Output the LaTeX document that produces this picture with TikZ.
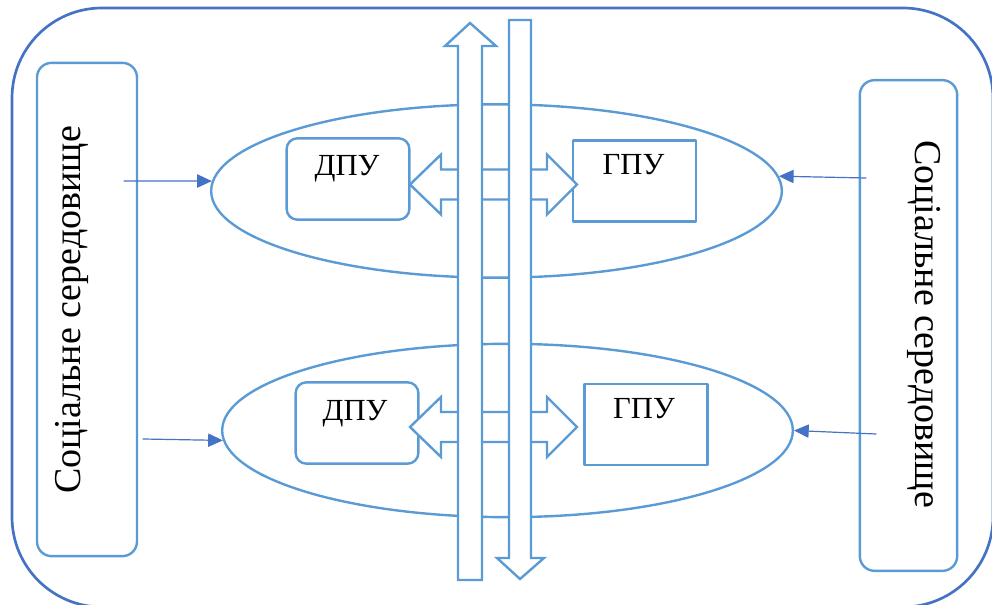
\documentclass[tikz,border=0pt]{standalone}
\usepackage{fontspec}
\setmainfont{Liberation Serif}
\usepackage{tikz}
\usetikzlibrary{arrows.meta,calc,shapes.geometric}
\definecolor{unitblue}{RGB}{91,155,213}
\definecolor{frameblue}{RGB}{68,114,196}
\tikzset{
  frame line/.style={draw=frameblue,line width=2pt},
  side box/.style={draw=unitblue,line width=1.8pt,rounded corners=11pt,inner sep=0pt},
  unit box/.style={draw=unitblue,line width=1.8pt,minimum width=92pt,minimum height=61pt,inner sep=0pt},
  level ellipse/.style={ellipse,draw=unitblue,line width=1.8pt,minimum width=428pt,minimum height=130pt,inner sep=0pt},
  block arrow/.style={draw=unitblue,fill=white,line width=1.8pt,line join=miter},
  link arrow/.style={draw=frameblue,line width=.9pt,-{Triangle[length=11pt,width=10pt]}},
  unit label/.style={font=\fontsize{23}{27}\selectfont,inner sep=0pt,anchor=base},
  side label/.style={font=\fontsize{28.5}{34}\selectfont,inner sep=0pt,anchor=base}
}
\newcommand{\TwoWayBlock}[1]{\draw[block arrow] (410,#1) -- ++(31,-30) -- ++(0,15) -- ++(106,0) -- ++(0,-15) -- ++(30,30) -- ++(-30,30) -- ++(0,-15) -- ++(-106,0) -- ++(0,15) -- cycle;}

\begin{document}
\begin{tikzpicture}[x=0.75pt,y=-0.75pt,line cap=round,line join=round]
  \useasboundingbox (0,0) rectangle (992,605);
  \clip (0,0) rectangle (992,605);

  \draw[frame line,rounded corners=67.5pt] (12,8) rectangle (993,607);

  % social environment on both sides
  \node[side box,minimum width=75pt,minimum height=370pt] (soc1) at (87,309.5) {};
  \node[side box,minimum width=73pt,minimum height=368pt] (soc2) at (908.5,325.5) {};
  \node[side label,rotate=90] at (80,310) {Соціальне середовище};
  \node[side label,rotate=-90] at (915,324) {Соціальне середовище};

  \node[level ellipse] (el1) at (496.5,191) {};
  \node[level ellipse] (el2) at (507.5,430.5) {};

  \node[unit box,rounded corners=8pt] (dpu1) at (348,179) {};
  \node[unit box] (gpu1) at (634.5,181) {};
  \node[unit box,rounded corners=8pt] (dpu2) at (357,423) {};
  \node[unit box] (gpu2) at (646,424.5) {};
  \node[unit label] at ($(dpu1)+(-1,-3)$) {ДПУ};
  \node[unit label] at ($(gpu1)+(-1,-6)$) {ГПУ};
  \node[unit label] at ($(dpu2)+(-2,-2)$) {ДПУ};
  \node[unit label] at ($(gpu2)+(-2,-6)$) {ГПУ};

  \coordinate (s1) at (124,181);
  \coordinate (s2) at (866,178);
  \coordinate (s3) at (143,439);
  \coordinate (s4) at (876,434);
  \draw[link arrow] (s1) -- (el1.178);
  \draw[link arrow] (s2) -- (el1.3);
  \draw[link arrow] (s3) -- (el2.182);
  \draw[link arrow] (s4) -- (el2.east);

  \TwoWayBlock{184.5}
  \TwoWayBlock{427}

  % up and down channels
  \draw[block arrow] (458,580) -- (458,46) -- (445,46) -- (470,23) -- (496,46) -- (482,46) -- (482,580) -- cycle;
  \draw[block arrow] (509,20) -- (509,558) -- (497,558) -- (520,579) -- (544,558) -- (531,558) -- (531,20) -- cycle;
\end{tikzpicture}
\end{document}
